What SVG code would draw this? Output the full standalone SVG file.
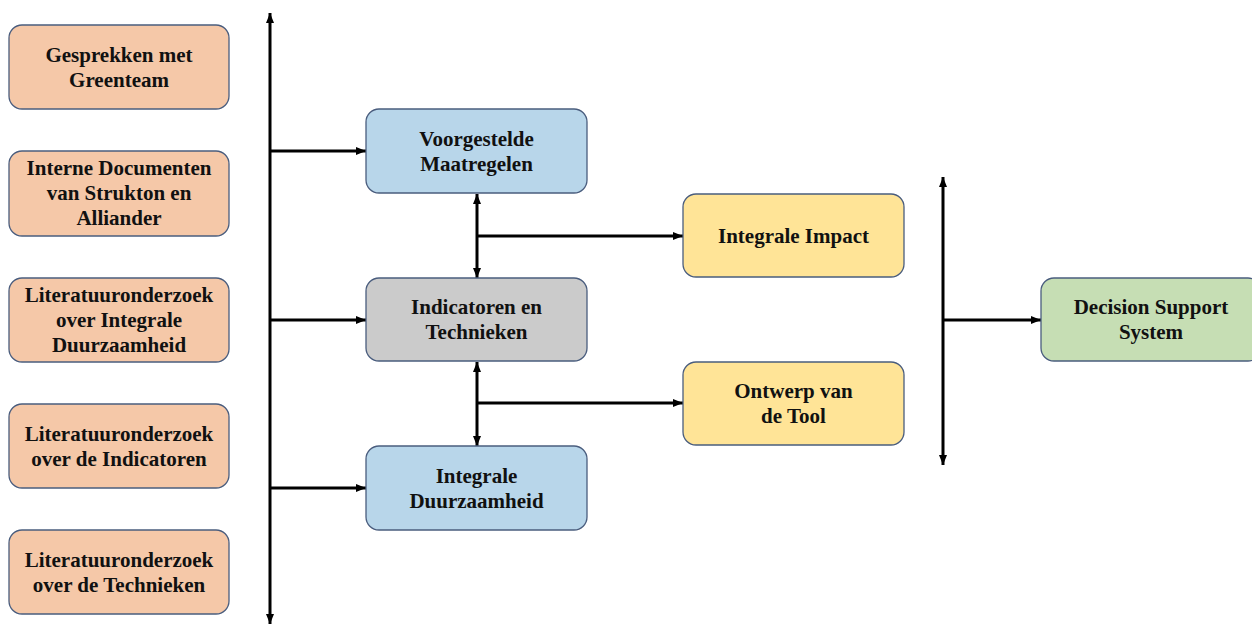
<svg xmlns="http://www.w3.org/2000/svg" width="1252" height="624" viewBox="0 0 1252 624">
  <style>
    .box { stroke: #4a5d7e; stroke-width: 1.3; }
    .src { fill: #f5c8a8; }
    .blue { fill: #b8d6ea; }
    .grey { fill: #cbcbcb; }
    .yellow { fill: #ffe497; }
    .green { fill: #c6deb4; }
    .lbl { font-family: "Liberation Serif", "Times New Roman", serif; font-weight: bold; font-size: 21px; fill: #111; text-anchor: middle; }
    .wire { stroke: #000; stroke-width: 3; fill: none; }
  </style>
  <defs>
    <marker id="head" viewBox="0 0 10 8" refX="10" refY="4" markerWidth="10" markerHeight="8" markerUnits="userSpaceOnUse" orient="auto-start-reverse">
      <path d="M0,0 L10,4 L0,8 z" fill="#000"/>
    </marker>
  </defs>
  <rect width="1252" height="624" fill="#fff"/>

  <!-- connectors -->
  <g id="connectors">
    <line class="wire" x1="270" y1="13" x2="270" y2="624" marker-start="url(#head)" marker-end="url(#head)"/>
    <line class="wire" x1="270" y1="151" x2="366" y2="151" marker-end="url(#head)"/>
    <line class="wire" x1="270" y1="320" x2="366" y2="320" marker-end="url(#head)"/>
    <line class="wire" x1="270" y1="488" x2="366" y2="488" marker-end="url(#head)"/>
    <line class="wire" x1="477" y1="194" x2="477" y2="278" marker-start="url(#head)" marker-end="url(#head)"/>
    <line class="wire" x1="477" y1="362" x2="477" y2="446" marker-start="url(#head)" marker-end="url(#head)"/>
    <line class="wire" x1="477" y1="236" x2="683" y2="236" marker-end="url(#head)"/>
    <line class="wire" x1="477" y1="403" x2="683" y2="403" marker-end="url(#head)"/>
    <line class="wire" x1="943" y1="177" x2="943" y2="465" marker-start="url(#head)" marker-end="url(#head)"/>
    <line class="wire" x1="943" y1="320" x2="1041" y2="320" marker-end="url(#head)"/>
  </g>

  <!-- sources -->
  <g id="gesprekken">
    <rect class="box src" x="9" y="25" width="220" height="84" rx="13"/>
    <text class="lbl" x="119" y="62">Gesprekken met</text>
    <text class="lbl" x="119" y="87">Greenteam</text>
  </g>
  <g id="interne-documenten">
    <rect class="box src" x="9" y="151" width="220" height="85" rx="13"/>
    <text class="lbl" x="119" y="175">Interne Documenten</text>
    <text class="lbl" x="119" y="200">van Strukton en</text>
    <text class="lbl" x="119" y="225">Alliander</text>
  </g>
  <g id="lit-duurzaamheid">
    <rect class="box src" x="9" y="278" width="220" height="84" rx="13"/>
    <text class="lbl" x="119" y="302">Literatuuronderzoek</text>
    <text class="lbl" x="119" y="327">over Integrale</text>
    <text class="lbl" x="119" y="352">Duurzaamheid</text>
  </g>
  <g id="lit-indicatoren">
    <rect class="box src" x="9" y="404" width="220" height="84" rx="13"/>
    <text class="lbl" x="119" y="441">Literatuuronderzoek</text>
    <text class="lbl" x="119" y="466">over de Indicatoren</text>
  </g>
  <g id="lit-technieken">
    <rect class="box src" x="9" y="530" width="220" height="84" rx="13"/>
    <text class="lbl" x="119" y="567">Literatuuronderzoek</text>
    <text class="lbl" x="119" y="592">over de Technieken</text>
  </g>

  <!-- middle column -->
  <g id="maatregelen">
    <rect class="box blue" x="366" y="109" width="221" height="84" rx="13"/>
    <text class="lbl" x="476.5" y="146">Voorgestelde</text>
    <text class="lbl" x="476.5" y="171">Maatregelen</text>
  </g>
  <g id="indicatoren">
    <rect class="box grey" x="366" y="278" width="221" height="83" rx="13"/>
    <text class="lbl" x="476.5" y="314">Indicatoren en</text>
    <text class="lbl" x="476.5" y="339">Technieken</text>
  </g>
  <g id="duurzaamheid">
    <rect class="box blue" x="366" y="446" width="221" height="84" rx="13"/>
    <text class="lbl" x="476.5" y="483">Integrale</text>
    <text class="lbl" x="476.5" y="508">Duurzaamheid</text>
  </g>

  <!-- outcomes -->
  <g id="impact">
    <rect class="box yellow" x="683" y="194" width="221" height="83" rx="13"/>
    <text class="lbl" x="793.5" y="243">Integrale Impact</text>
  </g>
  <g id="ontwerp">
    <rect class="box yellow" x="683" y="362" width="221" height="83" rx="13"/>
    <text class="lbl" x="793.5" y="398">Ontwerp van</text>
    <text class="lbl" x="793.5" y="423">de Tool</text>
  </g>
  <g id="dss">
    <rect class="box green" x="1041" y="278" width="220" height="83" rx="13"/>
    <text class="lbl" x="1151" y="314">Decision Support</text>
    <text class="lbl" x="1151" y="339">System</text>
  </g>
</svg>
